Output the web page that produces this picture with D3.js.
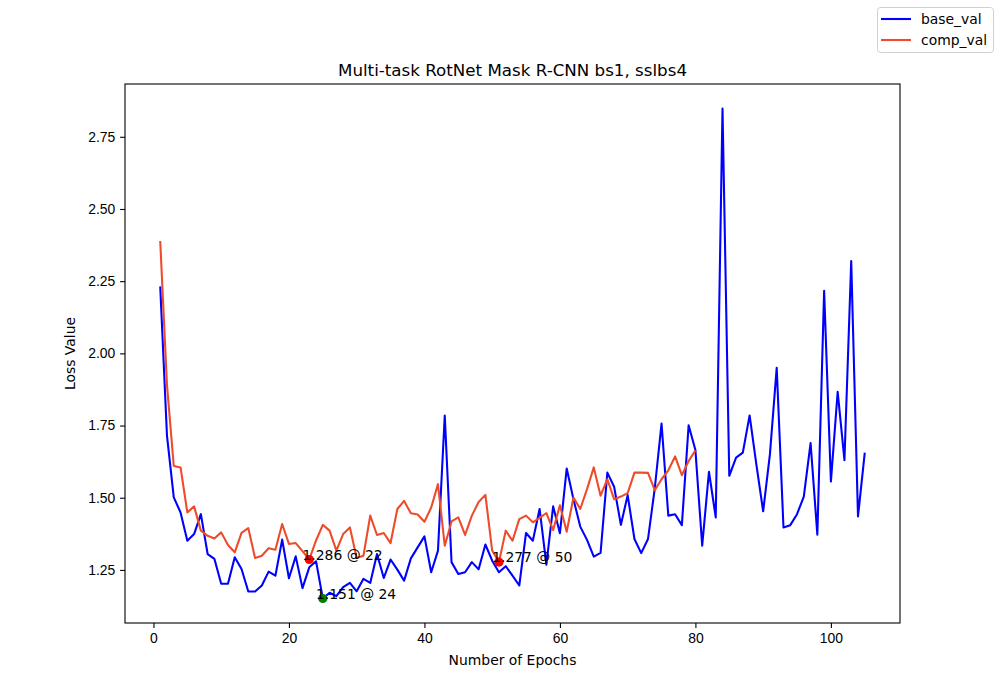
<!DOCTYPE html>
<html>
<head>
<meta charset="utf-8">
<script src="https://cdn.jsdelivr.net/npm/d3@7"></script>
<style>
  body { margin: 0; background: #fff; }
  svg { display: block; font-family: "DejaVu Sans", sans-serif; }
  .axis text { font-size: 13.9px; fill: #000; }
  .axis path, .axis line { stroke: #000; stroke-width: 1.1px; }
</style>
</head>
<body>
<svg id="chart" width="1000" height="700"></svg>
<script>
// loss per epoch (epoch = index + 1)
var baseVal = [
  2.232, 1.714, 1.501, 1.449, 1.351, 1.374, 1.443, 1.305, 1.288, 1.202,
  1.202, 1.294, 1.253, 1.175, 1.175, 1.196, 1.244, 1.230, 1.355, 1.221,
  1.297, 1.187, 1.259, 1.280, 1.151, 1.171, 1.159, 1.190, 1.205, 1.176,
  1.219, 1.205, 1.305, 1.222, 1.286, 1.251, 1.213, 1.290, 1.328, 1.366,
  1.242, 1.317, 1.785, 1.277, 1.236, 1.242, 1.277, 1.252, 1.338, 1.282,
  1.242, 1.263, 1.230, 1.196, 1.378, 1.351, 1.461, 1.268, 1.470, 1.377,
  1.601, 1.495, 1.400, 1.354, 1.296, 1.309, 1.587, 1.538, 1.406, 1.509,
  1.357, 1.308, 1.357, 1.532, 1.757, 1.438, 1.443, 1.405, 1.751, 1.665,
  1.334, 1.590, 1.432, 2.848, 1.576, 1.639, 1.656, 1.785, 1.615, 1.453,
  1.651, 1.950, 1.397, 1.405, 1.443, 1.504, 1.689, 1.372, 2.217, 1.556,
  1.867, 1.630, 2.320, 1.435, 1.656
];

var compVal = [
  2.389, 1.890, 1.610, 1.605, 1.449, 1.470, 1.386, 1.368, 1.359, 1.380,
  1.336, 1.311, 1.378, 1.395, 1.291, 1.299, 1.325, 1.320, 1.409, 1.340,
  1.343, 1.315, 1.286, 1.352, 1.406, 1.386, 1.317, 1.374, 1.397, 1.291,
  1.299, 1.438, 1.371, 1.378, 1.343, 1.461, 1.489, 1.446, 1.442, 1.417,
  1.466, 1.547, 1.334, 1.418, 1.432, 1.371, 1.438, 1.485, 1.510, 1.317,
  1.277, 1.386, 1.351, 1.426, 1.438, 1.415, 1.430, 1.447, 1.388, 1.474,
  1.382, 1.501, 1.461, 1.530, 1.605, 1.507, 1.564, 1.495, 1.504, 1.516,
  1.587, 1.587, 1.586, 1.526, 1.564, 1.595, 1.643, 1.578, 1.627, 1.664
];

// marked minima: index into the series, value, dot colour
var markIdx = [22, 24, 50];
var markVal = [1.286, 1.151, 1.277];
var markColor = ["red", "green", "red"];

var xTicks = [0, 20, 40, 60, 80, 100];
var yTicks = [1.25, 1.50, 1.75, 2.00, 2.25, 2.50, 2.75];

var seriesNames = ["base_val", "comp_val"];
var seriesColors = ["#0000ff", "#ee4b2b"];

var svg = d3.select("#chart"),
    margin = { left: 125, right: 100, top: 84, bottom: 77 },
    width = 1000 - margin.left - margin.right,
    height = 700 - margin.top - margin.bottom;

var g = svg.append("g").attr("transform", "translate(" + margin.left + "," + margin.top + ")");

// matplotlib-like 5% padding
function padded (lo, hi) {
  var m = (hi - lo) * 0.05;
  return [lo - m, hi + m];
}

var allVals = baseVal.concat(compVal);
var x = d3.scaleLinear().domain(padded(1, baseVal.length)).range([0, width]),
    y = d3.scaleLinear().domain(padded(d3.min(allVals), d3.max(allVals))).range([height, 0]);

var line = d3.line()
  .x(function (d, i) { return x(i + 1); })
  .y(function (d) { return y(d); });

g.append("clipPath").attr("id", "clip")
  .append("rect").attr("width", width).attr("height", height);

var plot = g.append("g").attr("clip-path", "url(#clip)");

[baseVal, compVal].forEach(function (s, k) {
  plot.append("path")
    .datum(s)
    .attr("fill", "none")
    .attr("stroke", seriesColors[k])
    .attr("stroke-width", 2.08)
    .attr("stroke-linejoin", "round")
    .attr("d", line);
});

markIdx.forEach(function (idx, k) {
  plot.append("circle")
    .attr("cx", x(idx + 1))
    .attr("cy", y(markVal[k]))
    .attr("r", 4.6)
    .attr("fill", markColor[k]);
  g.append("text")
    .attr("x", x(idx))
    .attr("y", y(markVal[k]))
    .attr("font-size", "13.9px")
    .text(d3.format(".3f")(markVal[k]) + " @ " + idx);
});

// axes
var xAxis = g.append("g")
  .attr("class", "axis")
  .attr("transform", "translate(0," + height + ")")
  .call(d3.axisBottom(x).tickValues(xTicks).tickSize(4.9).tickPadding(4.9).tickFormat(d3.format("d")));

var yAxis = g.append("g")
  .attr("class", "axis")
  .call(d3.axisLeft(y).tickValues(yTicks).tickSize(4.9).tickPadding(4.9).tickFormat(d3.format(".2f")));

xAxis.select(".domain").remove();
yAxis.select(".domain").remove();

g.append("rect")
  .attr("width", width)
  .attr("height", height)
  .attr("fill", "none")
  .attr("stroke", "#000")
  .attr("stroke-width", 1.1);

// labels
svg.append("text")
  .attr("x", margin.left + width / 2)
  .attr("y", 665)
  .attr("text-anchor", "middle")
  .attr("font-size", "13.9px")
  .text("Number of Epochs");

svg.append("text")
  .attr("transform", "translate(75," + (margin.top + height / 2) + ") rotate(-90)")
  .attr("text-anchor", "middle")
  .attr("font-size", "13.9px")
  .text("Loss Value");

svg.append("text")
  .attr("x", margin.left + width / 2)
  .attr("y", 76)
  .attr("text-anchor", "middle")
  .attr("font-size", "16.7px")
  .text("Multi-task RotNet Mask R-CNN bs1, sslbs4");

// legend (figure level, top right)
var legend = svg.append("g").attr("transform", "translate(877.5,7.5)");

legend.append("rect")
  .attr("width", 116)
  .attr("height", 45)
  .attr("rx", 3)
  .attr("fill", "#fff")
  .attr("fill-opacity", 0.8)
  .attr("stroke", "#d0d0d0");

seriesNames.forEach(function (name, k) {
  var ly = 11.5 + k * 21;
  legend.append("line")
    .attr("x1", 3.5).attr("x2", 33.5)
    .attr("y1", ly).attr("y2", ly)
    .attr("stroke", seriesColors[k])
    .attr("stroke-width", 2.08);
  legend.append("text")
    .attr("x", 43.5)
    .attr("y", ly + 5)
    .attr("font-size", "13.9px")
    .text(name);
});
</script>
</body>
</html>
